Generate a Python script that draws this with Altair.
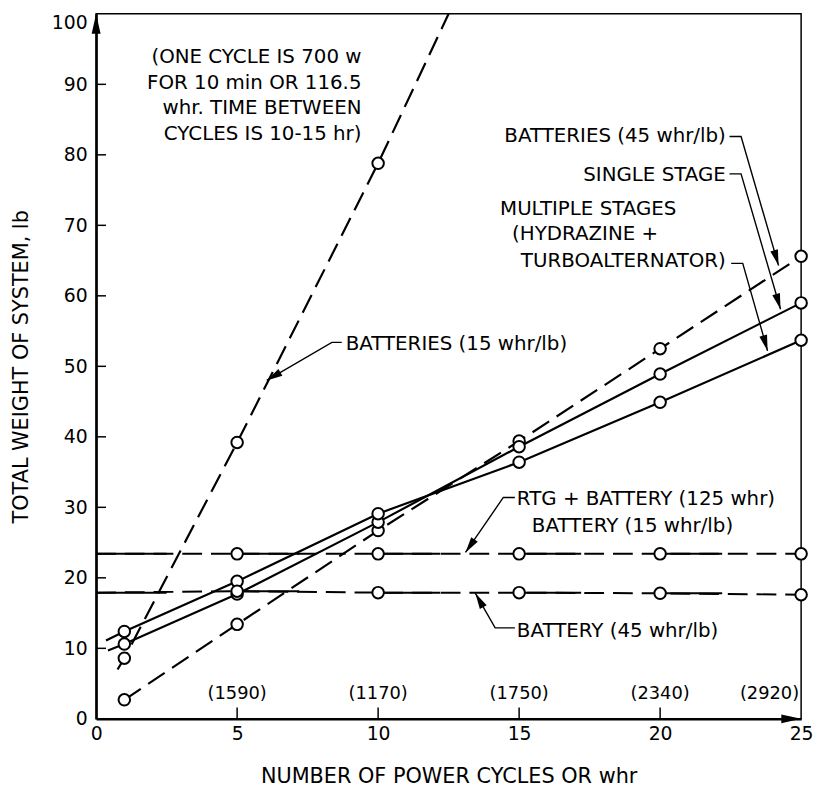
import math
import altair as alt
import pandas as pd

# ---------------- data ----------------
cycles = [1, 5, 10, 15, 20, 25]
batt45_lb = [2.7, 13.4, 26.7, 39.4, 52.5, 65.6]      # batteries 45 whr/lb (dashed)
single_lb = [10.6, 17.7, 27.9, 38.6, 48.9, 59.0]     # single stage
multi_lb = [12.4, 19.5, 29.1, 36.4, 44.9, 53.7]      # multiple stages
batt15_cycles = [1, 5, 10]
batt15_lb = [8.6, 39.2, 78.8]                        # batteries 15 whr/lb (dashed)
flat_cycles = [5, 10, 15, 20, 25]
rtg_lb = [23.4, 23.4, 23.4, 23.4, 23.4]              # RTG + battery
batt45_flat_lb = [18.1, 17.9, 17.9, 17.8, 17.6]      # battery 45 whr/lb (flat)

# drawn line end points (where the lines are extended beyond the data)
multi_start = (0.35, 11.1)
single_start = (0.42, 9.7)
batt15_start = (0.76, 7.0)
batt15_end = (12.5, 100.0)
rtg_start = (0.0, 23.4)
batt45_flat_start = (0.0, 17.9)

whr_cycles = [5, 10, 15, 20, 25]
whr_labels = ["(1590)", "(1170)", "(1750)", "(2340)", "(2920)"]

x_ticks = [0, 5, 10, 15, 20, 25]
y_ticks = [0, 10, 20, 30, 40, 50, 60, 70, 80, 90, 100]

FONT = "DejaVu Sans"
ANN = 20
W, H = 712, 712
PX_X = W / 25.0
PX_Y = H / 100.0

# ---------------- tables ----------------
def series_rows(name, xs, ys, start=None, end=None):
    rows = []
    if start:
        rows.append({"series": name, "x": start[0], "y": start[1]})
    rows += [{"series": name, "x": a, "y": b} for a, b in zip(xs, ys)]
    if end:
        rows.append({"series": name, "x": end[0], "y": end[1]})
    return rows

solid_lines = pd.DataFrame(
    series_rows("multi", cycles, multi_lb, multi_start)
    + series_rows("single", cycles, single_lb, single_start)
)
dashed_lines = pd.DataFrame(
    series_rows("b45", cycles, batt45_lb)
    + series_rows("b15", batt15_cycles, batt15_lb, batt15_start, batt15_end)
)
flat_lines = pd.DataFrame(
    series_rows("rtg", flat_cycles, rtg_lb, rtg_start)
    + series_rows("b45flat", flat_cycles, batt45_flat_lb, batt45_flat_start)
)

# solid stretches of the flat lines (just right of each circle, and at the start)
seg_rows = []
for name, ys, st in [("rtg", rtg_lb, rtg_start), ("b45flat", batt45_flat_lb, batt45_flat_start)]:
    seg_rows.append({"x": st[0], "x2": st[0] + 2.5, "y": st[1]})
    for c, v in zip(flat_cycles, ys):
        seg_rows.append({"x": c, "x2": min(c + 2.2, 25), "y": v})
segments = pd.DataFrame(seg_rows)

points = pd.DataFrame(
    series_rows("b45", cycles, batt45_lb)
    + series_rows("single", cycles, single_lb)
    + series_rows("multi", cycles, multi_lb)
    + series_rows("b15", batt15_cycles, batt15_lb)
    + series_rows("rtg", flat_cycles, rtg_lb)
    + series_rows("b45flat", flat_cycles, batt45_flat_lb)
)

# annotation texts
texts_right = pd.DataFrame({
    "x": [9.41, 9.41, 9.41, 9.41, 22.33, 22.33, 22.33],
    "y": [93.9, 90.2, 86.7, 82.9, 82.7, 77.2, 64.9],
    "t": ["(ONE CYCLE IS 700 w", "FOR 10 min OR 116.5", "whr. TIME BETWEEN",
          "CYCLES IS 10-15 hr)", "BATTERIES (45 whr/lb)", "SINGLE STAGE",
          "TURBOALTERNATOR)"],
})
texts_center = pd.DataFrame({
    "x": [17.45, 17.34],
    "y": [72.3, 68.7],
    "t": ["MULTIPLE STAGES", "(HYDRAZINE +"],
})
texts_left = pd.DataFrame({
    "x": [8.85, 14.92, 15.45, 14.92],
    "y": [53.2, 31.2, 27.4, 12.5],
    "t": ["BATTERIES (15 whr/lb)", "RTG + BATTERY (125 whr)",
          "BATTERY (15 whr/lb)", "BATTERY (45 whr/lb)"],
})
whr_center = pd.DataFrame({"x": whr_cycles[:4], "y": [3.5] * 4, "t": whr_labels[:4]})
whr_right = pd.DataFrame({"x": [24.93], "y": [3.5], "t": whr_labels[4:]})

# leader lines (tail hook -> bend -> arrow tip)
leaders = [
    [(22.46, 82.6), (22.87, 82.6), (24.20, 64.3)],
    [(22.46, 77.3), (22.87, 77.3), (24.27, 58.1)],
    [(22.52, 64.6), (22.93, 64.6), (23.81, 52.2)],
    [(8.71, 53.4), (8.36, 53.4), (6.05, 48.0)],
    [(14.85, 31.4), (14.44, 31.4), (13.10, 23.6)],
    [(14.85, 12.9), (14.15, 12.9), (13.45, 17.8)],
]
lead_rows, head_rows = [], []
for i, pts in enumerate(leaders):
    for k, (a, b) in enumerate(pts):
        lead_rows.append({"id": i, "ord": k, "x": a, "y": b})
    (x0, y0), (x1, y1) = pts[-2], pts[-1]
    dx = (x1 - x0) * PX_X
    dy = -(y1 - y0) * PX_Y
    ang = math.degrees(math.atan2(dx, -dy)) % 360
    head_rows.append({"x": x1, "y": y1, "ang": ang})
lead_df = pd.DataFrame(lead_rows)
head_df = pd.DataFrame(head_rows)

axis_heads = pd.DataFrame({"x": [0, 25], "y": [100, 0], "ang": [0, 90]})

ytick_df = pd.DataFrame({"y": y_ticks[1:-1]})
ytick_df["x"] = 0.0
ytick_df["x2"] = 0.35
xtick_df = pd.DataFrame({"x": x_ticks[1:-1]})
xtick_df["y"] = 0.0
xtick_df["y2"] = 1.6

# ---------------- encodings ----------------
common_axis = dict(grid=False, ticks=False, domainColor="black", domainWidth=2.5,
                   labelFont=FONT, labelFontSize=19, labelColor="black",
                   titleFont=FONT, titleFontSize=21, titleFontWeight="normal",
                   titleColor="black", labelFlush=False, format="d")
x_enc = alt.X(
    "x:Q",
    scale=alt.Scale(domain=[0, 25], nice=False, zero=False),
    axis=alt.Axis(values=x_ticks, title="NUMBER OF POWER CYCLES OR whr",
                  titleX=356, titleY=58, titleBaseline="middle", titleAlign="center",
                  labelPadding=6, **common_axis),
)
y_enc = alt.Y(
    "y:Q",
    scale=alt.Scale(domain=[0, 100], nice=False, zero=False),
    axis=alt.Axis(values=y_ticks, title="TOTAL WEIGHT OF SYSTEM, lb",
                  titleX=-75, titleY=356, titleAngle=270, titleBaseline="middle",
                  titleAlign="center", labelPadding=9,
                  labelBaseline={"condition": {"test": "datum.value == 100", "value": "top"},
                                 "value": "middle"},
                  **common_axis),
)

LEADER_HEAD = "M0,0L0.5,2L-0.5,2Z"
AXIS_HEAD = "M0,0L0.45,2L-0.45,2Z"

solid = alt.Chart(solid_lines).mark_line(color="black", strokeWidth=2.2).encode(
    x=x_enc, y=y_enc, detail="series:N")
dashed = alt.Chart(dashed_lines).mark_line(color="black", strokeWidth=2.2, strokeDash=[20, 9]).encode(
    x=x_enc, y=y_enc, detail="series:N")
flat = alt.Chart(flat_lines).mark_line(color="black", strokeWidth=2.0, strokeDash=[20, 9]).encode(
    x=x_enc, y=y_enc, detail="series:N")
segs = alt.Chart(segments).mark_rule(color="black", strokeWidth=2.0).encode(
    x=x_enc, x2="x2:Q", y=y_enc)
circles = alt.Chart(points).mark_point(
    shape="circle", size=135, fill="white", stroke="black", strokeWidth=2,
    opacity=1, fillOpacity=1).encode(x=x_enc, y=y_enc)

def text_layer(df, align, size):
    return alt.Chart(df).mark_text(align=align, baseline="middle", font=FONT,
                                   fontSize=size, color="black").encode(
        x=x_enc, y=y_enc, text="t:N")

tr = text_layer(texts_right, "right", ANN)
tc = text_layer(texts_center, "center", ANN)
tl = text_layer(texts_left, "left", ANN)
wc = text_layer(whr_center, "center", 18)
wr = text_layer(whr_right, "right", 18)

lead = alt.Chart(lead_df).mark_line(color="black", strokeWidth=1.4).encode(
    x=x_enc, y=y_enc, detail="id:N", order="ord:Q")
heads = alt.Chart(head_df).mark_point(shape=LEADER_HEAD, size=256, filled=True,
                                      color="black", opacity=1).encode(
    x=x_enc, y=y_enc, angle=alt.Angle("ang:Q", scale=None))
aheads = alt.Chart(axis_heads).mark_point(shape=AXIS_HEAD, size=400, filled=True,
                                          color="black", opacity=1).encode(
    x=x_enc, y=y_enc, angle=alt.Angle("ang:Q", scale=None))

yt = alt.Chart(ytick_df).mark_rule(color="black", strokeWidth=1.5).encode(
    x=x_enc, x2="x2:Q", y=y_enc)
xt = alt.Chart(xtick_df).mark_rule(color="black", strokeWidth=1.5).encode(
    x=x_enc, y=y_enc, y2="y2:Q")

chart = alt.layer(
    yt, xt, dashed, flat, segs, solid, lead, heads, circles, tr, tc, tl, wc, wr, aheads
).properties(
    width=W, height=H,
    background="white",
    autosize=alt.AutoSizeParams(type="none"),
    padding={"left": 89, "top": 2, "right": 12, "bottom": 70},
).configure_view(
    stroke="black", strokeWidth=1.5
)

chart.save("out.html", embed_options={"renderer": "svg", "actions": False})
